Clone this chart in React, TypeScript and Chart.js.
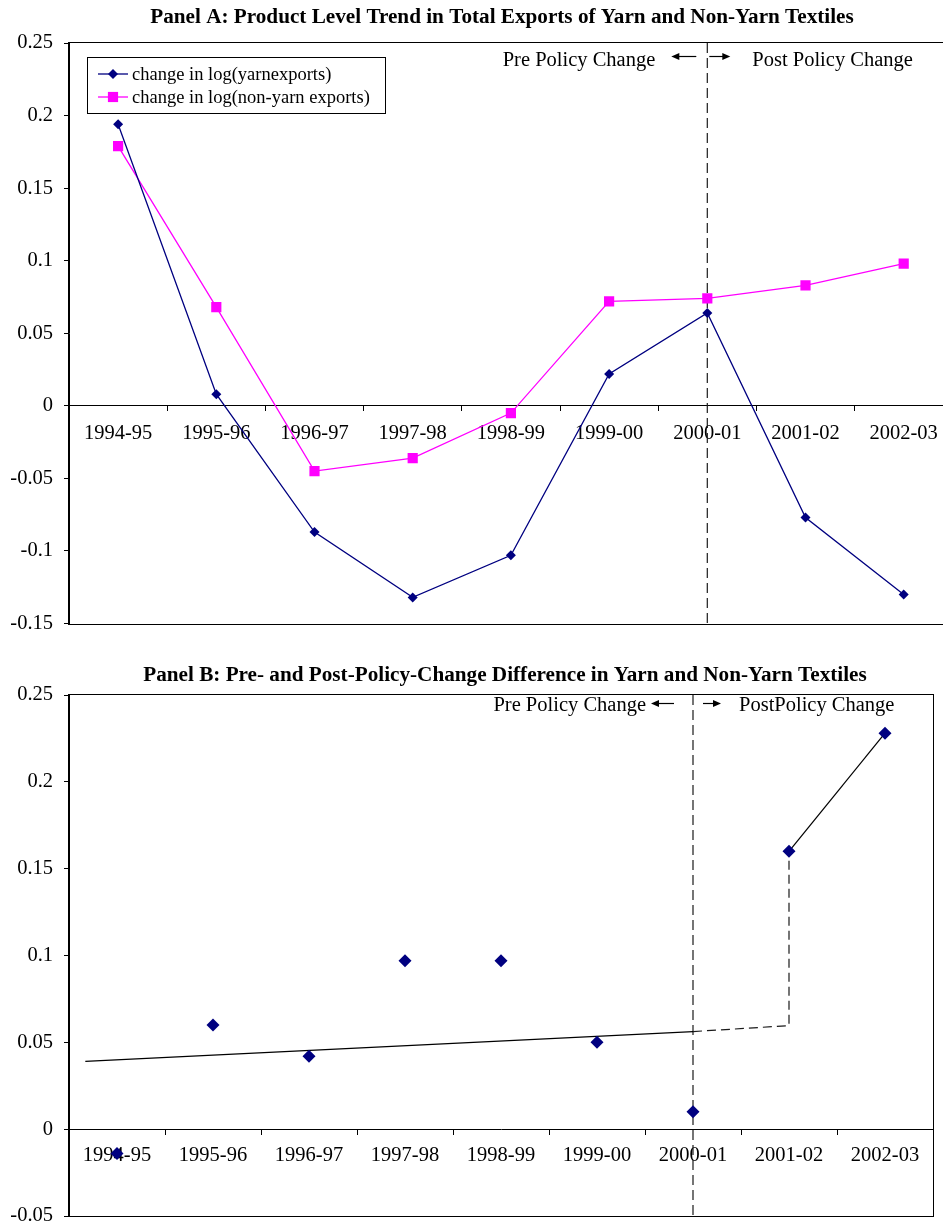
import React, { useEffect, useRef } from "react";
import { Chart, registerables } from "chart.js";

Chart.register(...registerables);

// ---------- data ----------
const categories = ["1994-95", "1995-96", "1996-97", "1997-98", "1998-99", "1999-00", "2000-01", "2001-02", "2002-03"];
const yarnExports = [0.194, 0.008, -0.087, -0.132, -0.103, 0.022, 0.064, -0.077, -0.130];
const nonYarnExports = [0.179, 0.068, -0.045, -0.036, -0.005, 0.072, 0.074, 0.083, 0.098];
const differenceValues = [-0.014, 0.06, 0.042, 0.097, 0.097, 0.05, 0.01, 0.16, 0.228];

const policyIndex = 6; // 2000-01
const preTrendX = [-0.33, 6];
const preTrendY = [0.039, 0.0562];
const connectorX = [6, 7, 7];
const connectorY = [0.0562, 0.0596, 0.16];
const postLineX = [7, 8];
const postLineY = [0.16, 0.228];

const yTicksA = [-0.15, -0.1, -0.05, 0, 0.05, 0.1, 0.15, 0.2, 0.25];
const yTicksB = [-0.05, 0, 0.05, 0.1, 0.15, 0.2, 0.25];

const legendLabels = ["change in log(yarnexports)", "change in log(non-yarn exports)"];
const titleA = "Panel A: Product Level Trend in Total Exports of Yarn and Non-Yarn Textiles";
const titleB = "Panel B: Pre- and Post-Policy-Change Difference in Yarn and Non-Yarn Textiles";
const preLabel = "Pre Policy Change";
const postLabelA = "Post Policy Change";
const postLabelB = "PostPolicy Change";

// ---------- styling ----------
const FONT = "'Liberation Serif', 'Times New Roman', serif";
const NAVY = "#000080";
const MAGENTA = "#FF00FF";
const DASH_COLOR = "#1a1a1a";

const fmt = (v: number) => String(Number(v.toFixed(2)));

function zip(xs: number[], ys: number[]) {
  return xs.map((x, i) => ({ x, y: ys[i] }));
}

function drawArrow(ctx: CanvasRenderingContext2D, from: number, to: number, y: number) {
  const dir = to > from ? 1 : -1;
  ctx.save();
  ctx.strokeStyle = "#000";
  ctx.fillStyle = "#000";
  ctx.lineWidth = 1.2;
  ctx.beginPath();
  ctx.moveTo(from, y + 0.5);
  ctx.lineTo(to - dir * 6, y + 0.5);
  ctx.stroke();
  ctx.beginPath();
  ctx.moveTo(to, y + 0.5);
  ctx.lineTo(to - dir * 8, y - 3);
  ctx.lineTo(to - dir * 8, y + 4);
  ctx.closePath();
  ctx.fill();
  ctx.restore();
}

type NoteCfg = {
  postText: string;
  baseline: number;
  arrowY: number;
  preRight: number;
  lTail: number;
  lHead: number;
  rTail: number;
  rHead: number;
  postLeft: number;
};

function notesPlugin(cfg: NoteCfg) {
  return {
    id: "policyNotes",
    afterDraw(chart: any) {
      const ctx = chart.ctx as CanvasRenderingContext2D;
      const x = chart.scales.x2.getPixelForValue(policyIndex);
      ctx.save();
      ctx.font = `20.5px ${FONT}`;
      ctx.fillStyle = "#000";
      ctx.textBaseline = "alphabetic";
      ctx.textAlign = "right";
      ctx.fillText(preLabel, x + cfg.preRight, cfg.baseline);
      ctx.textAlign = "left";
      ctx.fillText(cfg.postText, x + cfg.postLeft, cfg.baseline);
      ctx.restore();
      drawArrow(ctx, x + cfg.lTail, x + cfg.lHead, cfg.arrowY);
      drawArrow(ctx, x + cfg.rTail, x + cfg.rHead, cfg.arrowY);
    },
  };
}

function titlePlugin(text: string, cx: number, cy: number) {
  return {
    id: "panelTitle",
    afterDraw(chart: any) {
      const ctx = chart.ctx as CanvasRenderingContext2D;
      ctx.save();
      ctx.font = `bold 21.2px ${FONT}`;
      ctx.fillStyle = "#000";
      ctx.textAlign = "center";
      ctx.textBaseline = "middle";
      ctx.fillText(text, cx, cy);
      ctx.restore();
    },
  };
}

const framePlugin = {
  id: "frame",
  afterDatasetsDraw(chart: any) {
    const { left, top, right, bottom } = chart.chartArea;
    const ctx = chart.ctx as CanvasRenderingContext2D;
    ctx.save();
    ctx.strokeStyle = "#000";
    ctx.lineWidth = 1;
    ctx.strokeRect(Math.round(left) - 0.5, Math.round(top) - 0.5, Math.round(right - left) + 1, Math.round(bottom - top) + 1);
    ctx.restore();
  },
};

function drawMarker(ctx: CanvasRenderingContext2D, style: string, x: number, y: number, r: number, color: string) {
  ctx.fillStyle = color;
  ctx.beginPath();
  if (style === "rectRot") {
    ctx.moveTo(x, y - r);
    ctx.lineTo(x + r, y);
    ctx.lineTo(x, y + r);
    ctx.lineTo(x - r, y);
  } else {
    const s = r * Math.SQRT1_2;
    ctx.rect(x - s, y - s, 2 * s, 2 * s);
  }
  ctx.closePath();
  ctx.fill();
}

const legendPlugin = {
  id: "insideLegend",
  afterDraw(chart: any) {
    const ctx = chart.ctx as CanvasRenderingContext2D;
    const bx = 87.5, by = 57.5, bw = 298, bh = 56;
    ctx.save();
    ctx.fillStyle = "#fff";
    ctx.fillRect(bx, by, bw, bh);
    ctx.strokeStyle = "#000";
    ctx.lineWidth = 1;
    ctx.strokeRect(bx, by, bw, bh);
    const rows = [74, 97];
    chart.data.datasets.slice(0, 2).forEach((ds: any, i: number) => {
      const y = rows[i];
      ctx.strokeStyle = ds.borderColor;
      ctx.lineWidth = 1.3;
      ctx.beginPath();
      ctx.moveTo(98, y);
      ctx.lineTo(128, y);
      ctx.stroke();
      drawMarker(ctx, ds.pointStyle, 113, y, ds.pointRadius, ds.backgroundColor);
      ctx.fillStyle = "#000";
      ctx.font = `18.5px ${FONT}`;
      ctx.textAlign = "left";
      ctx.textBaseline = "middle";
      ctx.fillText(ds.label, 132, y + 1);
    });
    ctx.restore();
  },
};

function yAxis(ticks: number[]) {
  return {
    type: "linear" as const,
    min: ticks[0],
    max: ticks[ticks.length - 1],
    afterBuildTicks: (scale: any) => {
      scale.ticks = ticks.map((v) => ({ value: v }));
    },
    afterFit: (scale: any) => {
      scale.width = 69;
    },
    grid: { drawOnChartArea: false, drawTicks: true, tickLength: 5, color: "#000" },
    border: { display: true, color: "#000", width: 1 },
    ticks: {
      color: "#000",
      font: { family: FONT, size: 20.5 },
      padding: 11,
      callback: (v: any) => fmt(Number(v)),
    },
  };
}

function xAxes(labelPad: number) {
  return {
    x: {
      type: "category" as const,
      position: { y: 0 } as any,
      offset: true,
      grid: { offset: true, drawOnChartArea: false, drawTicks: true, tickLength: 5, color: "#000" },
      border: { display: true, color: "#000", width: 1 },
      ticks: {
        color: "#000",
        font: { family: FONT, size: 20.5 },
        padding: labelPad,
        maxRotation: 0,
        minRotation: 0,
        autoSkip: false,
      },
    },
    x2: {
      type: "linear" as const,
      display: false,
      min: -0.5,
      max: categories.length - 0.5,
    },
  };
}

function ChartA() {
  const ref = useRef<HTMLCanvasElement>(null);
  useEffect(() => {
    if (!ref.current) return;
    const chart = new Chart(ref.current, {
      type: "line",
      data: {
        labels: categories,
        datasets: [
          {
            label: legendLabels[0],
            data: yarnExports,
            xAxisID: "x",
            borderColor: NAVY,
            backgroundColor: NAVY,
            borderWidth: 1.3,
            pointStyle: "rectRot",
            pointRadius: 5,
            pointBorderWidth: 0,
            tension: 0,
          },
          {
            label: legendLabels[1],
            data: nonYarnExports,
            xAxisID: "x",
            borderColor: MAGENTA,
            backgroundColor: MAGENTA,
            borderWidth: 1.3,
            pointStyle: "rect",
            pointRadius: 7.2,
            pointBorderWidth: 0,
            tension: 0,
          },
          {
            label: "policy",
            data: zip([policyIndex, policyIndex], [yTicksA[yTicksA.length - 1], yTicksA[0]]),
            xAxisID: "x2",
            borderColor: DASH_COLOR,
            borderWidth: 1.2,
            borderDash: [10, 5],
            pointRadius: 0,
          },
        ],
      },
      options: {
        responsive: false,
        devicePixelRatio: 1,
        animation: false,
        events: [],
        layout: { padding: { left: 0, right: 7, top: 43, bottom: 26.5 } },
        plugins: { legend: { display: false }, tooltip: { enabled: false }, title: { display: false } },
        scales: { ...xAxes(10), y: yAxis(yTicksA) } as any,
      },
      plugins: [
        framePlugin,
        titlePlugin(titleA, 502, 18),
        notesPlugin({
          postText: postLabelA,
          baseline: 66,
          arrowY: 56,
          preRight: -52,
          lTail: -11,
          lHead: -36,
          rTail: 2,
          rHead: 23,
          postLeft: 45,
        }),
        legendPlugin,
      ],
    });
    return () => chart.destroy();
  }, []);
  return <canvas ref={ref} width={960} height={650} style={{ position: "absolute", left: 0, top: 0 }} />;
}

function ChartB() {
  const ref = useRef<HTMLCanvasElement>(null);
  useEffect(() => {
    if (!ref.current) return;
    const chart = new Chart(ref.current, {
      type: "line",
      data: {
        labels: categories,
        datasets: [
          {
            label: "difference",
            data: differenceValues,
            xAxisID: "x",
            showLine: false,
            borderColor: NAVY,
            backgroundColor: NAVY,
            pointStyle: "rectRot",
            pointRadius: 6.5,
            pointBorderWidth: 0,
          },
          {
            label: "post",
            data: zip(postLineX, postLineY),
            xAxisID: "x2",
            borderColor: "#000",
            borderWidth: 1.2,
            pointRadius: 0,
          },
          {
            label: "connector",
            data: zip(connectorX, connectorY),
            xAxisID: "x2",
            borderColor: DASH_COLOR,
            borderWidth: 1.2,
            borderDash: [9, 5],
            pointRadius: 0,
          },
          {
            label: "preTrend",
            data: zip(preTrendX, preTrendY),
            xAxisID: "x2",
            borderColor: "#000",
            borderWidth: 1.2,
            pointRadius: 0,
          },
          {
            label: "policy",
            data: zip([policyIndex, policyIndex], [yTicksB[yTicksB.length - 1], yTicksB[0]]),
            xAxisID: "x2",
            borderColor: DASH_COLOR,
            borderWidth: 1.2,
            borderDash: [10, 5],
            pointRadius: 0,
          },
        ],
      },
      options: {
        responsive: false,
        devicePixelRatio: 1,
        animation: false,
        events: [],
        layout: { padding: { left: 0, right: 10, top: 45, bottom: 24 } },
        plugins: { legend: { display: false }, tooltip: { enabled: false }, title: { display: false } },
        scales: { ...xAxes(9), y: yAxis(yTicksB) } as any,
      },
      plugins: [
        framePlugin,
        titlePlugin(titleB, 505, 26),
        notesPlugin({
          postText: postLabelB,
          baseline: 61,
          arrowY: 53,
          preRight: -47,
          lTail: -19,
          lHead: -42,
          rTail: 10,
          rHead: 28,
          postLeft: 46,
        }),
      ],
    });
    return () => chart.destroy();
  }, []);
  return <canvas ref={ref} width={943} height={590} style={{ position: "absolute", left: 0, top: 650 }} />;
}

export default function App() {
  return (
    <div
      style={{
        position: "absolute",
        left: 0,
        top: 0,
        width: 943,
        height: 1224,
        overflow: "hidden",
        background: "#fff",
      }}
    >
      <ChartA />
      <ChartB />
    </div>
  );
}
